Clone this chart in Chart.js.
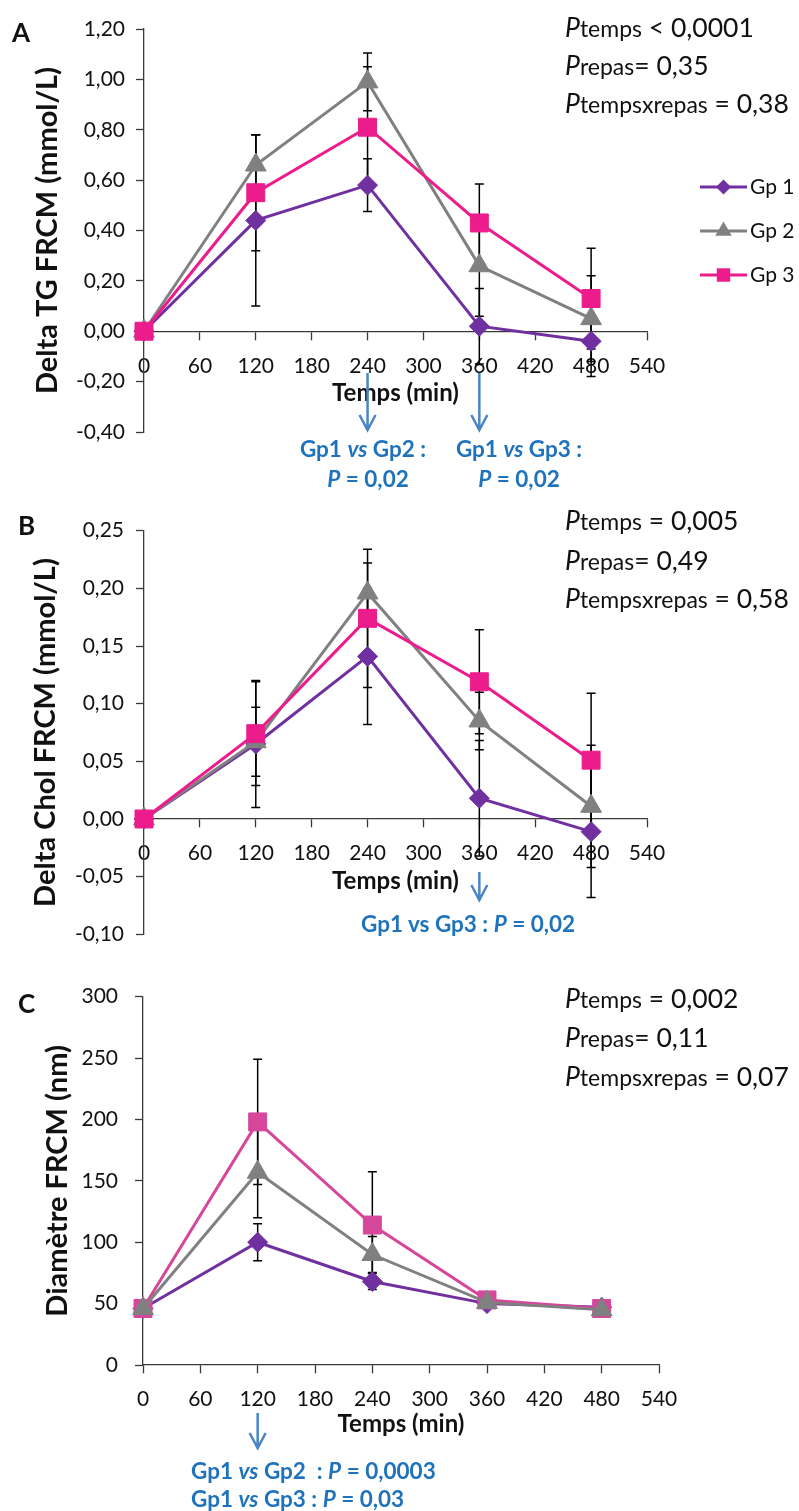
<!DOCTYPE html>
<html>
<head>
<meta charset="utf-8">
<script src="https://cdn.jsdelivr.net/npm/chart.js@4.4.1/dist/chart.umd.min.js"></script>
<style>
  body { margin:0; background:#fff; width:799px; height:1511px; position:relative; overflow:hidden; font-family: Lato, sans-serif; color:#111; }
  canvas { position:absolute; left:0; }
  .txt { position:absolute; white-space:nowrap; transform:translateY(-50%); z-index:2; }
  .mid { transform:translate(-50%,-50%); }
  .panel { font-size:26px; font-weight:bold; }
  .pv { font-size:26.5px; left:565px; }
  .pv small { font-size:23px; }
  .note { font-size:22.5px; font-weight:bold; color:#1f72bc; }
</style>
</head>
<body>
<canvas id="chartA" width="799" height="507" style="top:0px"></canvas>
<canvas id="chartB" width="799" height="510" style="top:500px"></canvas>
<canvas id="chartC" width="799" height="551" style="top:960px"></canvas>

<div class="txt panel" style="left:12px;top:32px">A</div>
<div class="txt panel" style="left:18px;top:525px">B</div>
<div class="txt panel" style="left:18px;top:1003px">C</div>

<div class="txt pv" style="top:27px"><i>P</i><small>temps</small> &lt; 0,0001</div>
<div class="txt pv" style="top:65px"><i>P</i><small>repas</small>= 0,35</div>
<div class="txt pv" style="top:103px"><i>P</i><small>tempsxrepas</small> = 0,38</div>

<div class="txt pv" style="top:520px"><i>P</i><small>temps</small> = 0,005</div>
<div class="txt pv" style="top:560px"><i>P</i><small>repas</small>= 0,49</div>
<div class="txt pv" style="top:598px"><i>P</i><small>tempsxrepas</small> = 0,58</div>

<div class="txt pv" style="top:998px"><i>P</i><small>temps</small> = 0,002</div>
<div class="txt pv" style="top:1037px"><i>P</i><small>repas</small>= 0,11</div>
<div class="txt pv" style="top:1076px"><i>P</i><small>tempsxrepas</small> = 0,07</div>

<div class="txt note mid" style="left:363px;top:448px">Gp1 <i>vs</i> Gp2 :</div>
<div class="txt note mid" style="left:368px;top:478px"><i>P</i> = 0,02</div>
<div class="txt note mid" style="left:519px;top:448px">Gp1 <i>vs</i> Gp3 :</div>
<div class="txt note mid" style="left:519px;top:478px"><i>P</i> = 0,02</div>

<div class="txt note" style="left:361px;top:923px">Gp1 vs Gp3 : <i>P</i> = 0,02</div>

<div class="txt note" style="left:191px;top:1470px">Gp1 <i>vs</i> Gp2&nbsp; : <i>P</i> = 0,0003</div>
<div class="txt note" style="left:191px;top:1498px">Gp1 <i>vs</i> Gp3 : <i>P</i> = 0,03</div>

<script>
Chart.defaults.font.family = 'Lato';

// time points (min)
const times = [0, 120, 240, 360, 480];
const groupNames = ['Gp 1', 'Gp 2', 'Gp 3'];

// A - Delta TG FRCM (mmol/L)
const tgGp1 = [0, 0.44, 0.58, 0.02, -0.04];
const tgGp2 = [0, 0.66, 0.99, 0.26, 0.05];
const tgGp3 = [0, 0.55, 0.81, 0.43, 0.13];
const tgErr1 = [0, 0.34, 0.105, 0.15, 0.14];
const tgErr2 = [0, 0.12, 0.115, 0.20, 0.17];
const tgErr3 = [0, 0.23, 0.24, 0.155, 0.20];

// B - Delta Chol FRCM (mmol/L)
const cholGp1 = [0, 0.065, 0.141, 0.018, -0.011];
const cholGp2 = [0, 0.067, 0.196, 0.085, 0.011];
const cholGp3 = [0, 0.074, 0.174, 0.119, 0.051];
const cholErr1 = [0, 0.055, 0.059, 0.05, 0.057];
const cholErr2 = [0, 0.03, 0.026, 0.025, 0.053];
const cholErr3 = [0, 0.045, 0.06, 0.045, 0.058];

// C - Diametre FRCM (nm)
const diamGp1 = [46, 100, 68, 50, 47];
const diamGp2 = [46, 157, 90, 51, 45];
const diamGp3 = [46, 198, 114, 53, 46];
const diamErr1 = [2, 15, 6.5, 3, 2];
const diamErr2 = [2, 37, 14.6, 3, 2];
const diamErr3 = [2, 51, 43.5, 3, 2];

// arrows under the x axis (time points with a significant difference)
const arrowsA = [240, 360];
const arrowsB = [360];
const arrowsC = [120];

const purple = '#7030a0', grey = '#808080', pink = '#ec1c8c', pinkC = '#d6479b';
const axisColor = '#3a3a3a';
const pointStyles = ['rectRot', 'triangle', 'rect'];
const pointRadii = [10, 12, 12.7];

function fmt2(v) {
  if (Math.abs(v) < 1e-9) v = 0;
  return v.toFixed(2).replace('.', ',');
}

function makeSets(values, errors, colors, orders) {
  return values.map((vals, g) => ({
    label: groupNames[g],
    data: times.map((t, i) => ({x: t, y: vals[i]})),
    errors: errors[g],
    borderColor: colors[g],
    backgroundColor: colors[g],
    pointBackgroundColor: colors[g],
    pointBorderColor: colors[g],
    pointBorderWidth: 1,
    pointStyle: pointStyles[g],
    pointRadius: pointRadii[g],
    borderWidth: 3,
    tension: 0,
    order: orders[g],
    clip: false
  }));
}

const errorBars = {
  id: 'errorBars',
  beforeDatasetsDraw(chart) {
    const ctx = chart.ctx, xs = chart.scales.x, ys = chart.scales.y;
    ctx.save();
    ctx.strokeStyle = '#000';
    ctx.lineWidth = 1.5;
    chart.data.datasets.forEach(ds => {
      ds.data.forEach((p, i) => {
        const e = ds.errors[i];
        if (!e) return;
        const x = xs.getPixelForValue(p.x);
        const y1 = ys.getPixelForValue(p.y + e);
        const y2 = ys.getPixelForValue(p.y - e);
        ctx.beginPath();
        ctx.moveTo(x, y1); ctx.lineTo(x, y2);
        ctx.moveTo(x - 4.5, y1); ctx.lineTo(x + 4.5, y1);
        ctx.moveTo(x - 4.5, y2); ctx.lineTo(x + 4.5, y2);
        ctx.stroke();
      });
    });
    ctx.restore();
  }
};

const arrows = {
  id: 'arrows',
  afterDraw(chart, args, opts) {
    if (!opts.at) return;
    const ctx = chart.ctx;
    ctx.save();
    ctx.strokeStyle = '#4a86c6';
    ctx.lineWidth = 2.5;
    opts.at.forEach(t => {
      const x = chart.scales.x.getPixelForValue(t);
      const y1 = opts.y1 - opts.top, y2 = opts.y2 - opts.top;
      ctx.beginPath();
      ctx.moveTo(x, y1); ctx.lineTo(x, y2);
      ctx.moveTo(x - 8, y2 - 15); ctx.lineTo(x, y2); ctx.lineTo(x + 8, y2 - 15);
      ctx.stroke();
    });
    ctx.restore();
  }
};

const lineLegend = {
  id: 'lineLegend',
  afterDraw(chart, args, opts) {
    if (!opts.show) return;
    const ctx = chart.ctx;
    chart.data.datasets.forEach((ds, i) => {
      const y = opts.top + i * opts.gap;
      ctx.save();
      ctx.strokeStyle = ds.borderColor;
      ctx.lineWidth = 3;
      ctx.beginPath();
      ctx.moveTo(opts.x, y); ctx.lineTo(opts.x + opts.len, y);
      ctx.stroke();
      ctx.fillStyle = ds.backgroundColor;
      Chart.helpers.drawPoint(ctx, {pointStyle: ds.pointStyle, radius: opts.radius[i], borderWidth: 0, rotation: 0}, opts.x + opts.len / 2, y);
      ctx.fillStyle = '#111';
      ctx.font = '21px Lato';
      ctx.textBaseline = 'middle';
      ctx.fillText(ds.label, opts.x + opts.len + 3, y);
      ctx.restore();
    });
  }
};

function makeChart(id, p) {
  return new Chart(document.getElementById(id), {
    type: 'line',
    data: {datasets: p.datasets},
    plugins: [errorBars, arrows, lineLegend],
    options: {
      responsive: false,
      animation: false,
      layout: {autoPadding: false, padding: {top: p.padTop, right: p.padRight, bottom: p.padBottom, left: 0}},
      plugins: {
        legend: {display: false},
        tooltip: {enabled: false},
        arrows: {at: p.arrows, y1: p.arrowY1, y2: p.arrowY2, top: p.canvasTop},
        lineLegend: p.legend || {show: false}
      },
      scales: {
        x: {
          type: 'linear', min: 0, max: 540,
          position: {y: p.yMin < 0 ? 0 : p.yMin},
          ticks: {stepSize: 60, font: {size: 21}, color: '#111', padding: 14},
          grid: {drawOnChartArea: false, drawTicks: true, tickLength: 8, tickColor: axisColor, tickWidth: 1.3},
          border: {color: axisColor, width: 1.3},
          title: {display: true, text: 'Temps (min)', font: {size: 24, weight: 'bold'}, color: '#111', padding: 0},
          afterFit(s) { s.height = p.xHeight; s.paddingLeft = 0; s.paddingRight = 0; }
        },
        y: {
          min: p.yMin, max: p.yMax,
          ticks: {stepSize: p.yStep, font: {size: 21}, color: '#111', padding: p.tickPad, callback: p.fmt},
          grid: {drawOnChartArea: false, drawTicks: true, tickLength: 8, tickColor: axisColor, tickWidth: 1.3},
          border: {color: axisColor, width: 1.3},
          title: {display: true, text: p.yTitle, font: {size: 29, weight: 'bold'}, color: '#111', padding: {top: p.titleX - 17.4, bottom: 0}},
          afterFit(s) { s.width = p.left; s.paddingTop = 0; s.paddingBottom = 0; }
        }
      }
    }
  });
}

makeChart('chartA', {
  datasets: makeSets([tgGp1, tgGp2, tgGp3], [tgErr1, tgErr2, tgErr3], [purple, grey, pink], [3, 2, 1]),
  canvasTop: 0, padTop: 29, padRight: 152, padBottom: 75, left: 144, xHeight: 76, titleX: 47.5, tickPad: 11,
  yMin: -0.4, yMax: 1.2, yStep: 0.2, fmt: fmt2, yTitle: 'Delta TG FRCM (mmol/L)',
  arrows: arrowsA, arrowY1: 373, arrowY2: 430,
  legend: {show: true, x: 700, len: 47, top: 187, gap: 44, radius: [7.5, 9.5, 9.5]}
});

makeChart('chartB', {
  datasets: makeSets([cholGp1, cholGp2, cholGp3], [cholErr1, cholErr2, cholErr3], [purple, grey, pink], [3, 2, 1]),
  canvasTop: 500, padTop: 30.7, padRight: 152, padBottom: 75.7, left: 144, xHeight: 77, titleX: 46, tickPad: 12,
  yMin: -0.1, yMax: 0.25, yStep: 0.05, fmt: fmt2, yTitle: 'Delta Chol FRCM (mmol/L)',
  arrows: arrowsB, arrowY1: 872, arrowY2: 900
});

makeChart('chartC', {
  datasets: makeSets([diamGp1, diamGp2, diamGp3], [diamErr1, diamErr2, diamErr3], [purple, grey, pinkC], [3, 1, 2]),
  canvasTop: 960, padTop: 36.7, padRight: 140, padBottom: 146, left: 143, xHeight: 74, titleX: 57.5, tickPad: 17,
  yMin: 0, yMax: 300, yStep: 50, fmt: v => String(v), yTitle: 'Diamètre FRCM (nm)',
  arrows: arrowsC, arrowY1: 1413, arrowY2: 1448
});
</script>
</body>
</html>
